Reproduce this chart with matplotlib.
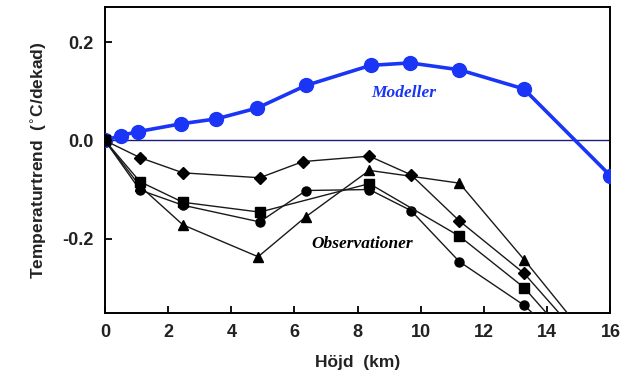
import numpy as np
import matplotlib
matplotlib.use('Agg')
import matplotlib.pyplot as plt

# Modell (blaa kurvan)
hojd_mod = [0.0, 0.5, 1.05, 2.42, 3.53, 4.82, 6.36, 8.41, 9.66, 11.22, 13.26, 16.0]
trend_mod = [0.0, 0.010, 0.018, 0.034, 0.044, 0.066, 0.112, 0.153, 0.158, 0.144, 0.105, -0.072]

# Observationer (svarta kurvor)
hojd_diam = [0.0, 1.11, 2.47, 4.9, 6.27, 8.37, 9.69, 11.22, 13.27, 16.0]
trend_diam = [0.0, -0.035, -0.066, -0.076, -0.043, -0.032, -0.070, -0.164, -0.271, -0.47]

hojd_sq = [0.0, 1.11, 2.47, 4.9, 8.37, 11.22, 13.27, 16.0]
trend_sq = [0.0, -0.084, -0.126, -0.146, -0.088, -0.195, -0.300, -0.50]

hojd_circ = [0.0, 1.11, 2.47, 4.9, 6.37, 8.37, 9.69, 11.22, 13.27, 16.0]
trend_circ = [0.0, -0.101, -0.132, -0.166, -0.102, -0.100, -0.143, -0.247, -0.336, -0.50]

hojd_tri = [0.0, 1.11, 2.47, 4.85, 6.37, 8.37, 11.22, 13.27, 16.0]
trend_tri = [0.0, -0.093, -0.172, -0.237, -0.155, -0.061, -0.087, -0.243, -0.46]

xticks = [0, 2, 4, 6, 8, 10, 12, 14, 16]
yticks = [-0.2, 0.0, 0.2]

fig = plt.figure(figsize=(6.28, 3.87), dpi=100)
ax = fig.add_axes([0.167, 0.192, 0.805, 0.790])

ax.axhline(0, color='#1c1c7a', lw=1.0, zorder=1)

blue = '#1a35f5'
ax.plot(hojd_mod, trend_mod, '-o', color=blue, lw=2.6, ms=10, zorder=3)

kw = dict(color='#1a1a1a', lw=1.0, mfc='black', mec='black', zorder=4)
ax.plot(hojd_tri, trend_tri, '-^', ms=7, **kw)
ax.plot(hojd_circ, trend_circ, '-o', ms=6.5, **kw)
ax.plot(hojd_diam, trend_diam, '-D', ms=6, **kw)
ax.plot(hojd_sq, trend_sq, '-s', ms=7.5, **kw)

ax.text(9.45, 0.096, 'Modeller', color=blue, fontsize=12.5, family='Liberation Serif',
        style='italic', weight='bold', ha='center', va='center')
ax.text(8.15, -0.21, 'Observationer', color='black', fontsize=12.5, family='Liberation Serif',
        style='italic', weight='bold', ha='center', va='center')

ax.set_xlim(0, 16)
ax.set_ylim(-0.351, 0.272)
ax.set_xticks(xticks)
ax.set_yticks(yticks)
ax.set_xticklabels([str(t) for t in xticks])
ax.set_yticklabels(['-0.2', '0.0', '0.2'])
ax.tick_params(direction='in', length=5, width=1.3, top=False, right=False, pad=8)
for lab in ax.get_xticklabels() + ax.get_yticklabels():
    lab.set_family('Liberation Sans')
    lab.set_weight('bold')
    lab.set_fontsize(13)
    lab.set_color('#222222')
for s in ax.spines.values():
    s.set_linewidth(1.4)

ax.set_xlabel('Höjd  (km)', family='Liberation Sans', weight='bold', fontsize=12.5,
              color='#222222', labelpad=10)
ax.set_ylabel('Temperaturtrend  ($^{\\circ}$C/dekad)', family='Liberation Sans', weight='bold',
              fontsize=12.5, color='#222222', labelpad=10)

fig.savefig('out.png', dpi=100)
